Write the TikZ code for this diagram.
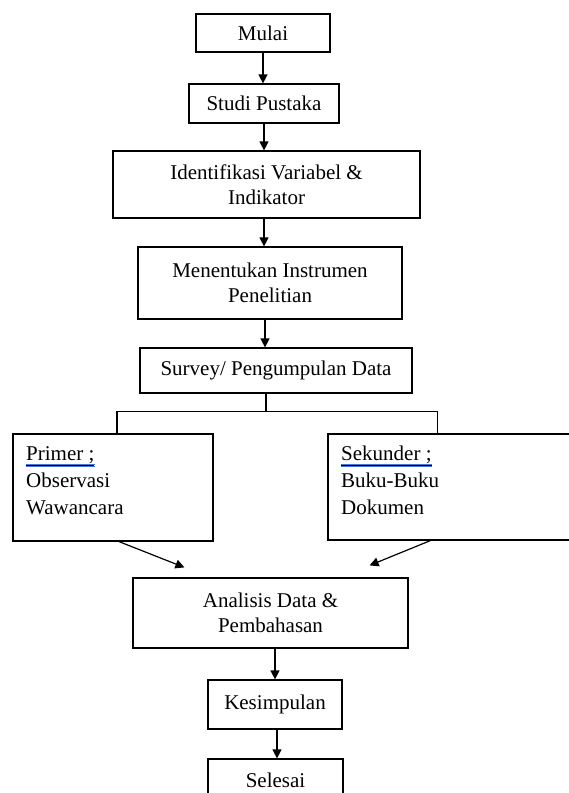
\documentclass[tikz,border=0pt]{standalone}
\usepackage{fontspec}
\setmainfont{Liberation Serif}
\usetikzlibrary{arrows.meta,calc}
\definecolor{spellblue}{RGB}{70,120,220}
\begin{document}
\begin{tikzpicture}[x=1pt,y=-1pt,
  box/.style={draw,line width=1.2pt,inner sep=0pt,align=center,font=\fontsize{21}{25}\selectfont},
  ltext/.style={anchor=north west,align=left,inner sep=0pt,font=\fontsize{21}{27}\selectfont},
  arr/.style={line width=1.2pt,-{Triangle[length=9pt,width=9pt]}},
  ln/.style={line width=1.2pt},
  spell/.style={draw=spellblue,line width=0.6pt}]
\useasboundingbox (0,0) rectangle (569,793);
\clip (0,0) rectangle (569,793);
\fill[white] (0,0) rectangle (569,793);
\node[box,minimum width=134pt,minimum height=38pt] (mu) at (263,33) {Mulai};
\node[box,minimum width=150pt,minimum height=39pt] (st) at (264,103.5) {Studi Pustaka};
\node[box,minimum width=307pt,minimum height=67pt] (id) at (266.5,184.5) {Identifikasi Variabel \&\\Indikator};
\node[box,minimum width=264pt,minimum height=72pt] (me) at (270,283) {Menentukan Instrumen\\Penelitian};
\node[box,minimum width=272pt,minimum height=45pt] (sv) at (276,370.5) {Survey/ Pengumpulan Data};
\node[box,minimum width=200pt,minimum height=107pt] (pr) at (113,487.5) {};
\node[ltext] (prt) at (26,446) {\underline{Primer ;}\\Observasi\\Wawancara};
\node[box,minimum width=262pt,minimum height=106pt] (se) at (459,487) {};
\node[ltext] (set) at (341,446) {\underline{Sekunder ;}\\Buku-Buku\\Dokumen};
\node[box,minimum width=275pt,minimum height=70pt] (an) at (270.5,613) {Analisis Data \&\\Pembahasan};
\node[box,minimum width=134pt,minimum height=49pt] (ke) at (275,704.5) {Kesimpulan};
\node[box,minimum width=135pt,minimum height=42pt] (se2) at (275.5,780) {Selesai};
% spell-check marks
\draw[spell] (26,464) -- (95,464) (26,466) -- (95,466);
\draw[spell] (341,464) -- (432,464) (341,466) -- (432,466);
% connectors
\draw[arr] (mu.south) -- (mu.south |- st.north);
\draw[arr] (st.south) -- (st.south |- id.north);
\draw[arr] ([xshift=-2.5pt]id.south) -- ([xshift=-2.5pt]id.south |- me.north);
\draw[arr] ([xshift=-5pt]me.south) -- ([xshift=-5pt]me.south |- sv.north);
\coordinate (br) at ([xshift=-10pt,yshift=-18pt]sv.south);
\draw[ln] ([xshift=-10pt]sv.south) -- (br);
\draw[ln] ([xshift=4pt]pr.north) |- (br) -| ([xshift=110pt]se.north west);
\draw[arr] ([xshift=6pt]pr.south) -- ([xshift=52pt,yshift=10pt]an.north west);
\draw[arr] ([xshift=103pt]se.south west) -- ([xshift=-39pt,yshift=12pt]an.north east);
\draw[arr] ([xshift=4.5pt]an.south) -- ([xshift=4.5pt]an.south |- ke.north);
\draw[arr] ([xshift=2pt]ke.south) -- ([xshift=2pt]ke.south |- se2.north);
\end{tikzpicture}
\end{document}
